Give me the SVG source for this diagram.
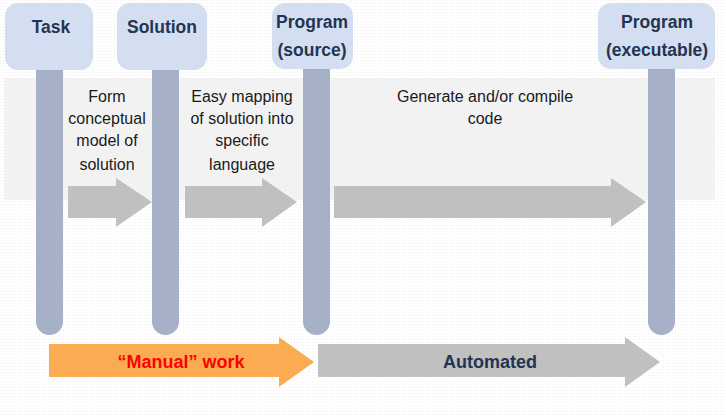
<svg xmlns="http://www.w3.org/2000/svg" width="726" height="416" viewBox="0 0 726 416">
<defs>
<pattern id="dots" width="3" height="3" patternUnits="userSpaceOnUse"><rect width="3" height="3" fill="#ffffff"/><rect width="1" height="1" fill="#f0f0f0"/></pattern>
<style>
.box{fill:#d3dff0;}
.bar{fill:#a6b0c6;}
.hdr{font-family:"Liberation Sans",Arial,sans-serif;font-weight:bold;font-size:17.5px;fill:#243452;text-anchor:middle;}
.mid{font-family:"Liberation Sans",Arial,sans-serif;font-size:16px;fill:#1a1a1a;text-anchor:middle;}
.garrow{fill:#c0c0c0;}
.big{font-family:"Liberation Sans",Arial,sans-serif;font-weight:bold;font-size:18px;text-anchor:middle;}
</style>
</defs>
<rect width="726" height="416" fill="url(#dots)"/>
<rect x="4" y="78" width="711" height="122" fill="#f2f2f2"/>

<g id="connectors">
<polygon class="garrow" points="68,186 116,186 116,178 152,202 116,227 116,218 68,218"/>
<polygon class="garrow" points="185,186 262,186 262,178 297,202 262,227 262,218 185,218"/>
<polygon class="garrow" points="334,186 611,186 611,178 646,202 611,227 611,218 334,218"/>
<polygon fill="#fbab52" points="49,344 279,344 279,337 314,362 279,387 279,377 49,377"/>
<polygon class="garrow" points="318,344 625,344 625,337 660,362 625,387 625,377 318,377"/>
<text class="big" x="181" y="368" fill="#ff0000">“Manual” work</text>
<text class="big" x="490" y="368" fill="#243452">Automated</text>
<text class="mid" x="107" y="102">Form</text>
<text class="mid" x="107" y="124">conceptual</text>
<text class="mid" x="107" y="146">model of</text>
<text class="mid" x="107" y="170">solution</text>
<text class="mid" x="242" y="102">Easy mapping</text>
<text class="mid" x="242" y="124">of solution into</text>
<text class="mid" x="242" y="146">specific</text>
<text class="mid" x="242" y="170">language</text>
<text class="mid" x="485" y="102">Generate and/or compile</text>
<text class="mid" x="485" y="124">code</text>
</g>

<g id="task">
<path class="bar" d="M36,66 H63 V321.5 A13.5,13.5 0 0 1 36,321.5 Z"/>
<rect class="box" x="5" y="3" width="88" height="67" rx="13"/>
<text class="hdr" x="51" y="33">Task</text>
</g>
<g id="solution">
<path class="bar" d="M152,66 H179 V321.5 A13.5,13.5 0 0 1 152,321.5 Z"/>
<rect class="box" x="117" y="3" width="90" height="67" rx="13"/>
<text class="hdr" x="162" y="33">Solution</text>
</g>
<g id="program-source">
<path class="bar" d="M303,66 H330 V321.5 A13.5,13.5 0 0 1 303,321.5 Z"/>
<rect class="box" x="272" y="3" width="81" height="66" rx="13"/>
<text class="hdr" x="312" y="28">Program</text>
<text class="hdr" x="312" y="56">(source)</text>
</g>
<g id="program-executable">
<path class="bar" d="M648,66 H675 V321.5 A13.5,13.5 0 0 1 648,321.5 Z"/>
<rect class="box" x="598" y="3" width="117" height="66" rx="13"/>
<text class="hdr" x="657" y="28">Program</text>
<text class="hdr" x="657" y="56">(executable)</text>
</g>
</svg>
